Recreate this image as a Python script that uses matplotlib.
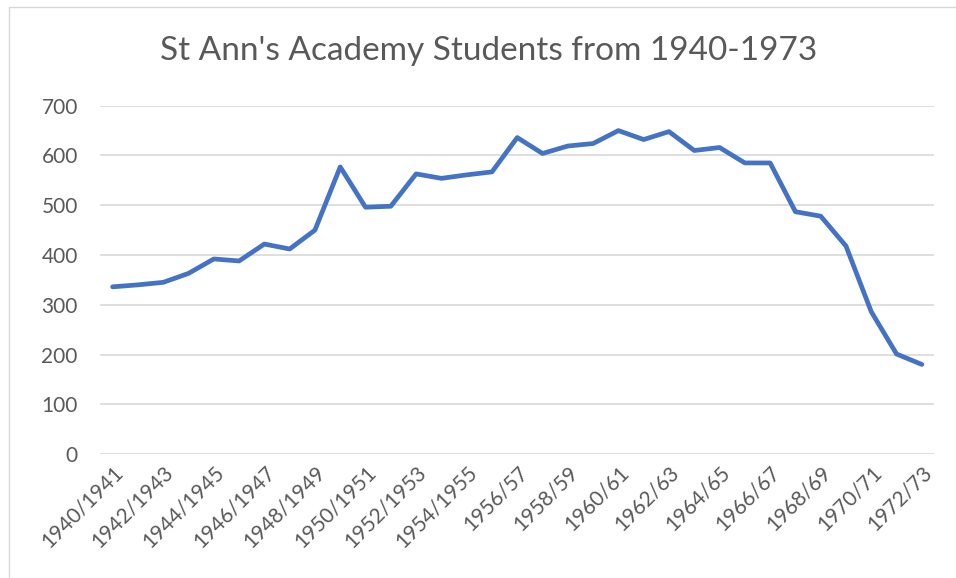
import matplotlib.pyplot as plt
from matplotlib.patches import Rectangle

# School years, 1940/41 to 1972/73
years = ['1940/1941', '1941/1942', '1942/1943', '1943/1944', '1944/1945',
         '1945/1946', '1946/1947', '1947/1948', '1948/1949', '1949/1950',
         '1950/1951', '1951/1952', '1952/1953', '1953/1954', '1954/1955',
         '1955/1956', '1956/57', '1957/58', '1958/59', '1959/60', '1960/61',
         '1961/62', '1962/63', '1963/64', '1964/65', '1965/66', '1966/67',
         '1967/68', '1968/69', '1969/70', '1970/71', '1971/72', '1972/73']
students = [336, 340, 345, 363, 392, 388, 422, 412, 450, 577,
            496, 498, 563, 554, 561, 567, 636, 604, 619, 624,
            650, 632, 648, 610, 616, 585, 585, 487, 478, 418,
            286, 201, 180]
yticks = [0, 100, 200, 300, 400, 500, 600, 700]

grey = '#595959'
plt.rcParams['font.family'] = ['Lato', 'DejaVu Sans']

fig = plt.figure(figsize=(9.56, 5.78), dpi=100)
fig.patches.append(Rectangle((9 / 956, -0.1), 1.2, 1.1 - 7 / 578, transform=fig.transFigure,
                             fill=False, edgecolor='#d9d9d9', linewidth=1))

ax = fig.add_axes([0.1046, 0.2145, 0.8729, 0.6026])
x = list(range(len(years)))
ax.plot(x, students, color='#4472C4', linewidth=3.4, solid_joinstyle='round', solid_capstyle='round')

ax.set_xlim(-0.5, len(years) - 0.5)
ax.set_ylim(0, 700)
ax.set_yticks(yticks)
ax.set_xticks(x[::2], labels=years[::2])
plt.setp(ax.get_xticklabels(), rotation=45, ha='right', rotation_mode='anchor')
ax.tick_params(length=0, labelsize=15, colors=grey)
ax.tick_params(axis='y', pad=16)
ax.tick_params(axis='x', pad=6)
ax.grid(axis='y', color='#d9d9d9', linewidth=1.2)
ax.set_axisbelow(True)
for s in ax.spines.values():
  s.set_visible(False)

fig.text(0.511, 0.912, "St Ann's Academy Students from 1940-1973", ha='center', va='center',
         fontsize=24, color=grey)

fig.savefig('out.png', dpi=100)
